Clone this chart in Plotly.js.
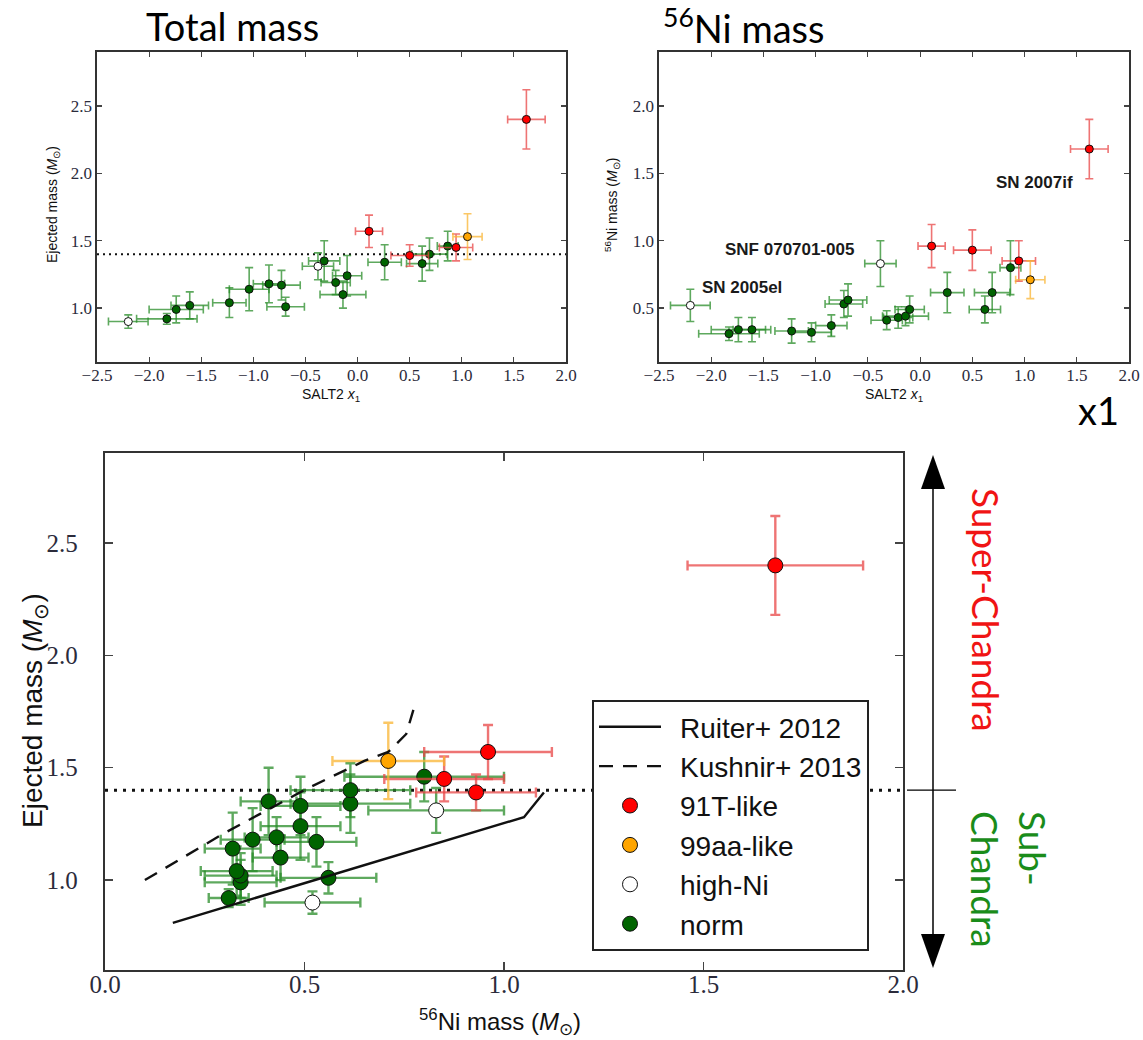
<!DOCTYPE html>
<html><head><meta charset="utf-8">
<script src="https://cdn.plot.ly/plotly-3.0.1.min.js"></script>
<style>html,body{margin:0;padding:0;background:#fff;} #chart{width:1143px;height:1040px;}</style>
</head><body><div id="chart"></div>
<script>
// ---- data (one entry per supernova) ----
const snType = ['high-Ni','norm','norm','norm','norm','norm','norm','norm','norm','high-Ni','norm','norm','norm','norm','91T-like','norm','91T-like','norm','norm','norm','91T-like','99aa-like','91T-like'];
const x1     = [-2.20,-1.83,-1.74,-1.61,-1.23,-1.04,-0.85,-0.73,-0.69,-0.38,-0.32,-0.21,-0.14,-0.10, 0.11, 0.26, 0.50, 0.62, 0.69, 0.865, 0.945, 1.055, 1.62];
const x1Err  = [ 0.19, 0.29, 0.26, 0.18, 0.16, 0.19, 0.15, 0.18, 0.18, 0.15, 0.15, 0.14, 0.22, 0.14, 0.13, 0.16, 0.18, 0.15, 0.17, 0.10, 0.16, 0.14, 0.18];
const ejMass = [ 0.90, 0.92, 0.99, 1.02, 1.04, 1.14, 1.18, 1.17, 1.01, 1.31, 1.35, 1.19, 1.10, 1.24, 1.57, 1.34, 1.39, 1.33, 1.40, 1.46, 1.45, 1.53, 2.40];
const ejErr  = [ 0.05, 0.04, 0.10, 0.10, 0.11, 0.16, 0.14, 0.11, 0.07, 0.10, 0.15, 0.09, 0.10, 0.15, 0.12, 0.13, 0.08, 0.13, 0.12, 0.11, 0.10, 0.17, 0.22];
const niMass = [ 0.52, 0.31, 0.34, 0.34, 0.33, 0.32, 0.37, 0.53, 0.56, 0.83, 0.41, 0.43, 0.44, 0.49, 0.96, 0.615, 0.93, 0.49, 0.615, 0.80, 0.85, 0.71, 1.68];
const niErr  = [ 0.12, 0.05, 0.09, 0.09, 0.09, 0.07, 0.08, 0.10, 0.12, 0.17, 0.07, 0.08, 0.07, 0.10, 0.16, 0.15, 0.15, 0.10, 0.15, 0.20, 0.15, 0.14, 0.22];

const ruiterNi  = [0.17, 1.05, 1.10];
const ruiterMej = [0.81, 1.28, 1.39];
const kushnirNi  = [0.10, 0.30, 0.51, 0.65, 0.71, 0.755, 0.78];
const kushnirMej = [1.00, 1.21, 1.41, 1.53, 1.57, 1.65, 1.80];
const chandraMass = 1.4;

const groupOrder = ['norm','high-Ni','91T-like','99aa-like'];
const legendRank = {'91T-like':3,'99aa-like':4,'high-Ni':5,'norm':6};
const labels = [
  {text:'SN 2005el', x:-2.11, y:0.654},
  {text:'SNF 070701-005', x:-1.89, y:0.933},
  {text:'SN 2007if', x:0.71, y:1.43}
];

// ---- styles ----
const sty = {
  'norm':     {fill:'#006400', err:'rgba(40,140,40,0.75)'},
  'high-Ni':  {fill:'#ffffff', err:'rgba(40,140,40,0.75)'},
  '91T-like': {fill:'#ff0000', err:'rgba(232,70,70,0.75)'},
  '99aa-like':{fill:'#ffa500', err:'rgba(250,180,50,0.75)'}
};
const W = 1143, H = 1040;
const px = v => v / W, py = v => 1 - v / H;
const pick = (arr, g) => arr.filter((_, i) => snType[i] === g);
const pad = '\u2002';

const traces = [];
function addPanel(xa, ya, xs, xe, ys, ye, big, legend) {
  groupOrder.forEach(g => {
    traces.push({
      type:'scatter', mode:'markers', name:pad + g, xaxis:xa, yaxis:ya,
      x:pick(xs,g), y:pick(ys,g),
      error_x:{type:'data', array:pick(xe,g), color:sty[g].err, thickness:big?2.4:1.6, width:big?5:4},
      error_y:{type:'data', array:pick(ye,g), color:sty[g].err, thickness:big?2.4:1.6, width:big?5:4},
      marker:{size:big?15:8, color:sty[g].fill, line:{color:'#111', width:1}},
      showlegend:legend, legendrank:legendRank[g], hoverinfo:'skip'
    });
  });
}
addPanel('x','y', x1, x1Err, ejMass, ejErr, false, false);
addPanel('x2','y2', x1, x1Err, niMass, niErr, false, false);
addPanel('x3','y3', niMass, niErr, ejMass, ejErr, true, true);
traces.push({type:'scatter', mode:'lines', name:pad + 'Ruiter+ 2012', x:ruiterNi, y:ruiterMej, xaxis:'x3', yaxis:'y3',
  line:{color:'#111', width:2.4}, legendrank:1, hoverinfo:'skip'});
traces.push({type:'scatter', mode:'lines', name:pad + 'Kushnir+ 2013', x:kushnirNi, y:kushnirMej, xaxis:'x3', yaxis:'y3',
  line:{color:'#111', width:2.4, dash:'14px,10px'}, legendrank:2, hoverinfo:'skip'});

const tickFontS = {family:'Liberation Serif, DejaVu Serif, serif', size:17, color:'#2b2b3b'};
const tickFontL = {family:'Liberation Serif, DejaVu Serif, serif', size:25, color:'#2b2b3b'};
function ax(domain, range, anchor, big, standoff) {
  return {domain, range, anchor, dtick:0.5, tick0:0, tickformat:'.1f',
    ticks:'inside', ticklen:big?8:5, tickwidth:1.2, tickcolor:'#444',
    mirror:'allticks', showline:true, linecolor:'#333', linewidth:big?2.2:1.6,
    showgrid:false, zeroline:false, tickfont:big?tickFontL:tickFontS, automargin:false, fixedrange:true,
    ticklabelstandoff:standoff};
}

const sans = 'Liberation Sans, Arial, sans-serif';
const titleFont = {family:'Lato, Open Sans, sans-serif', size:38, color:'#000'};
const annotations = [
  {text:'Total mass', x:px(232), y:py(26), xref:'paper', yref:'paper', showarrow:false, font:titleFont, xanchor:'center', yanchor:'middle'},
  {text:'<sup>56</sup>Ni mass', x:px(744), y:py(26), xref:'paper', yref:'paper', showarrow:false, font:titleFont, xanchor:'center', yanchor:'middle'},
  {text:'x1', x:px(1098), y:py(410), xref:'paper', yref:'paper', showarrow:false, font:titleFont, xanchor:'center', yanchor:'middle'},
  {text:'Ejected mass (<i>M</i><sub>⊙</sub>)', x:px(53), y:py(205), xref:'paper', yref:'paper', showarrow:false, textangle:-90, font:{family:sans, size:14, color:'#111'}, xanchor:'center', yanchor:'middle'},
  {text:'SALT2 <i>x</i><sub>1</sub>', x:px(331), y:py(395), xref:'paper', yref:'paper', showarrow:false, font:{family:sans, size:14, color:'#111'}, xanchor:'center', yanchor:'middle'},
  {text:'<sup>56</sup>Ni mass (<i>M</i><sub>⊙</sub>)', x:px(612), y:py(205), xref:'paper', yref:'paper', showarrow:false, textangle:-90, font:{family:sans, size:14, color:'#111'}, xanchor:'center', yanchor:'middle'},
  {text:'SALT2 <i>x</i><sub>1</sub>', x:px(894), y:py(395), xref:'paper', yref:'paper', showarrow:false, font:{family:sans, size:14, color:'#111'}, xanchor:'center', yanchor:'middle'},
  {text:'Ejected mass (<i>M</i><sub>⊙</sub>)', x:px(34), y:py(711), xref:'paper', yref:'paper', showarrow:false, textangle:-90, font:{family:sans, size:28, color:'#111'}, xanchor:'center', yanchor:'middle'},
  {text:'<sup>56</sup>Ni mass (<i>M</i><sub>⊙</sub>)', x:px(500), y:py(1022), xref:'paper', yref:'paper', showarrow:false, font:{family:sans, size:24, color:'#111'}, xanchor:'center', yanchor:'middle'},
  {text:'Super-Chandra', x:px(987), y:py(610), xref:'paper', yref:'paper', showarrow:false, textangle:90, font:{family:'Lato, Open Sans, sans-serif', size:37, color:'#f01414'}, xanchor:'center', yanchor:'middle'},
  {text:'Sub-<br>Chandra', x:px(1010), y:py(879), xref:'paper', yref:'paper', showarrow:false, textangle:90, align:'left', font:{family:'Lato, Open Sans, sans-serif', size:37, color:'#1a8c1a'}, xanchor:'center', yanchor:'middle'}
];
labels.forEach(l => annotations.push({text:l.text, x:l.x, y:l.y, xref:'x2', yref:'y2', showarrow:false, xanchor:'left', yanchor:'middle', font:{family:sans, size:17, color:'#1a1a1a', weight:'bold'}}));

const P = (a, b) => px(a) + ',' + py(b);
const shapes = [
  {type:'line', xref:'x domain', yref:'y', x0:0, x1:1, y0:chandraMass, y1:chandraMass, layer:'below', line:{color:'#111', width:2, dash:'2px,4px'}},
  {type:'line', xref:'x3 domain', yref:'y3', x0:0, x1:1, y0:chandraMass, y1:chandraMass, layer:'below', line:{color:'#111', width:3, dash:'3px,6px'}},
  {type:'line', xref:'paper', yref:'paper', x0:px(933), x1:px(933), y0:py(480), y1:py(945), line:{color:'#000', width:1.5}},
  {type:'path', xref:'paper', yref:'paper', path:'M'+P(933,455)+' L'+P(921,489)+' L'+P(945,489)+' Z', fillcolor:'#000', line:{width:0}},
  {type:'path', xref:'paper', yref:'paper', path:'M'+P(933,968)+' L'+P(921,934)+' L'+P(945,934)+' Z', fillcolor:'#000', line:{width:0}},
  {type:'line', xref:'paper', yref:'y3', x0:px(907), x1:px(956), y0:chandraMass, y1:chandraMass, line:{color:'#000', width:1.3}}
];

const layout = {
  width:W, height:H, margin:{l:0,r:0,t:0,b:0},
  paper_bgcolor:'#fff', plot_bgcolor:'rgba(0,0,0,0)',
  xaxis: ax([px(97), px(566)], [-2.5, 2.0], 'y', false, -3),
  yaxis: ax([py(362), py(52)], [0.6, 2.9], 'x', false, 0),
  xaxis2: ax([px(659), px(1129)], [-2.5, 2.0], 'y2', false, -3),
  yaxis2: ax([py(362), py(52)], [0.1, 2.4], 'x2', false, 0),
  xaxis3: ax([px(105), px(903)], [0, 2.0], 'y3', true, -9),
  yaxis3: ax([py(970), py(453)], [0.6, 2.9], 'x3', true, 20),
  showlegend:true,
  legend:{x:px(592), y:py(700), xanchor:'left', yanchor:'top', bgcolor:'#fff', bordercolor:'#222', borderwidth:2,
    font:{family:sans, size:28, color:'#111'}, itemwidth:62, traceorder:'normal'},
  shapes, annotations
};
Plotly.newPlot('chart', traces, layout, {displayModeBar:false, staticPlot:true});
</script></body></html>
